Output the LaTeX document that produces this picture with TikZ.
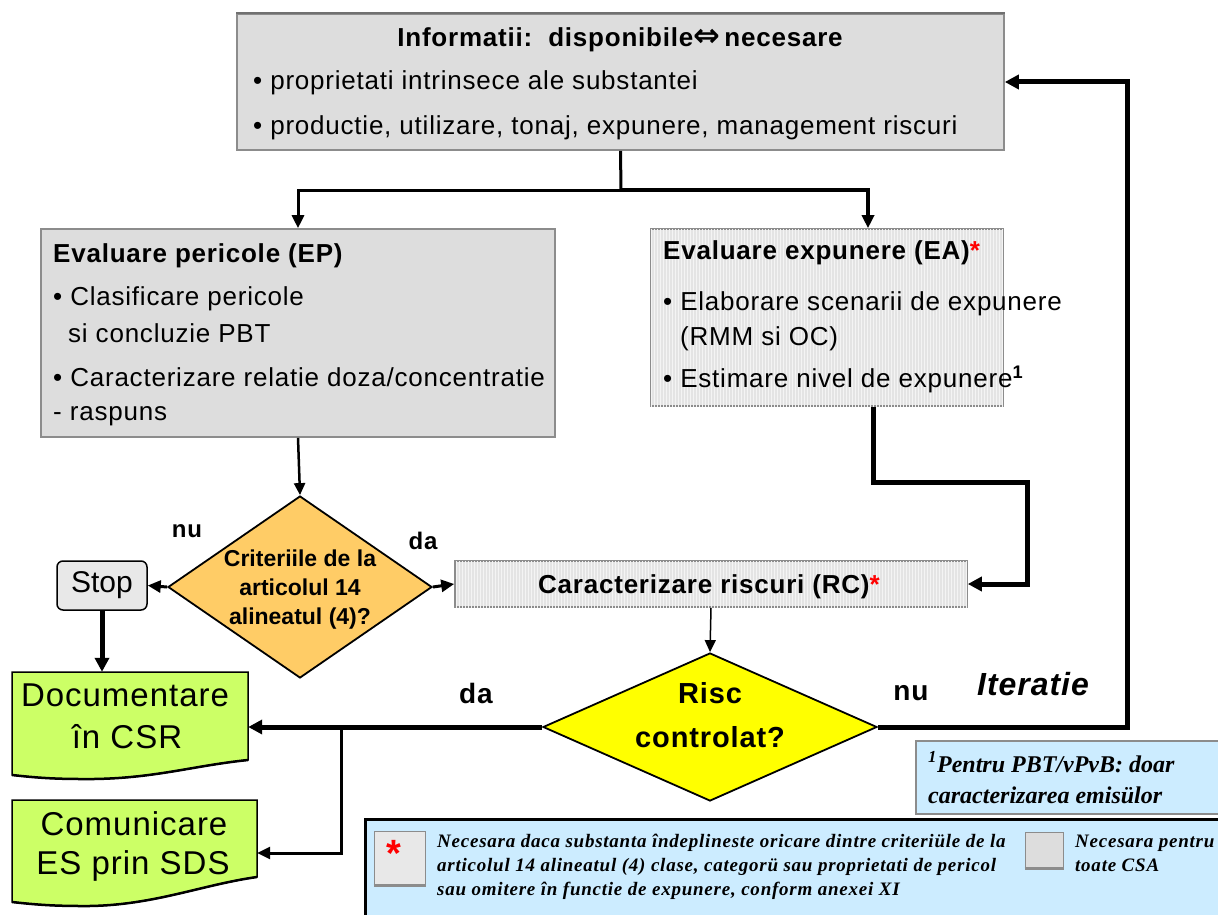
\documentclass[tikz,border=0pt]{standalone}
\usepackage{fontspec}
\setmainfont{Liberation Sans}[LetterSpace=3]
\newfontfamily\plainsans{Liberation Sans}
\newfontfamily\legendfont{Liberation Serif}[LetterSpace=4]
\newfontfamily\footfont{Liberation Serif}
\newfontfamily\symfont{DejaVu Sans}
\usetikzlibrary{shapes.geometric,arrows.meta,patterns,calc}

\definecolor{boxgray}{HTML}{DDDDDD}
\definecolor{stripegray}{HTML}{E4E4E4}
\definecolor{edgegray}{HTML}{8C8C8C}
\definecolor{critorange}{HTML}{FFCC66}
\definecolor{riscyellow}{HTML}{FFFF00}
\definecolor{docgreen}{HTML}{CCFF66}
\definecolor{noteblue}{HTML}{CCECFF}
\definecolor{stopgray}{HTML}{E8E8E8}

\tikzset{
  graybox/.style={draw=edgegray, line width=1.6pt, fill=boxgray, inner sep=0pt},
  stripebox/.style={draw=edgegray, line width=1.6pt, fill=stripegray, inner sep=0pt,
    postaction={pattern=vertical lines, pattern color=white!60!stripegray}},
  decision/.style={diamond, draw=black, line width=1.8pt, inner sep=0pt},
  anchorbox/.style={inner sep=0pt},
  body/.style={font=\fontsize{26}{31}\selectfont, inner sep=0pt, anchor=west,
    text height=19pt, text depth=5.5pt},
  head/.style={body, font=\fontsize{26}{31}\selectfont\bfseries},
  big/.style={font=\fontsize{33}{40}\selectfont, inner sep=0pt,
    text height=24pt, text depth=7pt},
  answer/.style={font=\fontsize{28}{34}\selectfont\bfseries, inner sep=0pt},
  note/.style={font=\legendfont\bfseries\itshape\fontsize{19}{23}\selectfont,
    inner sep=0pt, anchor=west, text height=13.5pt, text depth=4pt},
  footnote/.style={font=\footfont\bfseries\itshape\fontsize{24}{29}\selectfont,
    inner sep=0pt, anchor=west, text height=17pt, text depth=5pt},
  flow/.style={line width=1.5pt, -{Triangle[length=12pt,width=11pt]}},
  flowmid/.style={line width=3pt, -{Triangle[length=13pt,width=12pt]}},
  flowthick/.style={line width=5pt, -{Triangle[length=14pt,width=14pt]}},
  docshape/.style={draw=black, line width=1.5pt, fill=docgreen},
}

\begin{document}
\begin{tikzpicture}[x=1pt,y=-1pt]
\useasboundingbox (0,0) rectangle (1218,915);
\clip (0,0) rectangle (1218,915);

% ---------- information box ----------
\node[graybox, minimum width=767, minimum height=136] (info) at (620.5,82) {};
\draw[edgegray!80!black, line width=2.5pt] (info.north west) -- (info.north east);
\node[head, anchor=center] (infohead) at (620,40)
  {Informatii:\ \ disponibile{\symfont\fontsize{32}{32}\selectfont ⇔}\,necesare};
\node[body] (info1) at (253,83) {• proprietati intrinsece ale substantei};
\node[body] (info2) at (253,128) {• productie, utilizare, tonaj, expunere, management riscuri};

% ---------- hazard assessment ----------
\node[graybox, minimum width=514, minimum height=208] (ep) at (298,333) {};
\node[head] (ephead) at (53,256) {Evaluare pericole (EP)};
\node[body] (ep1) at (53,299) {• Clasificare pericole};
\node[body] (ep2) at (68,336) {si concluzie PBT};
\node[body] (ep3) at (53,380) {• Caracterizare relatie doza/concentratie};
\node[body] (ep4) at (53,414) {- raspuns};

% ---------- exposure assessment ----------
\node[stripebox, minimum width=352, minimum height=177] (ea) at (827,317.5) {};
\node[head] (eahead) at (663,253) {Evaluare expunere (EA)\textcolor{red}{*}};
\node[body] (ea1) at (663,304) {• Elaborare scenarii de expunere};
\node[body] (ea2) at (680,339) {(RMM si OC)};
\node[body] (ea3) at (663,381) {• Estimare nivel de expunere\textsuperscript{\bfseries 1}};

% ---------- criteria decision ----------
\node[decision, fill=critorange, minimum width=264, minimum height=182] (crit) at (300,587) {};
\node[font=\plainsans\fontsize{23}{29}\selectfont\bfseries, align=center, inner sep=0pt] (crittext) at (300,590)
  {Criteriile de la\\articolul 14\\alineatul (4)?};
\node[answer, font=\fontsize{24}{29}\selectfont\bfseries] (critno) at (187,531) {nu};
\node[answer, font=\fontsize{24}{29}\selectfont\bfseries] (crityes) at (423,541) {da};

% ---------- stop ----------
\node[draw=black, line width=1.5pt, fill=stopgray, rounded corners=6pt,
  minimum width=90, minimum height=49, inner sep=0pt,
  font=\plainsans\fontsize{30}{36}\selectfont] (stop) at (102,585.5) {Stop};

% ---------- risk characterisation ----------
\node[stripebox, minimum width=512, minimum height=46] (rc) at (711,584) {};
\node[head, anchor=center] (rctext) at (709,587) {Caracterizare riscuri (RC)\textcolor{red}{*}};

% ---------- risk decision ----------
\node[decision, fill=riscyellow, minimum width=334, minimum height=148] (risc) at (710,727) {};
\node[font=\fontsize{29}{44}\selectfont\bfseries, align=center, inner sep=0pt] (risctext) at (710,715)
  {Risc\\controlat?};
\node[answer] (riscyes) at (476,693) {da};
\node[answer] (riscno) at (911,693) {nu};
\node[answer, font=\fontsize{32}{38}\selectfont\bfseries\itshape] (iter) at (1033,684) {Iteratie};

% ---------- documents ----------
\node[anchorbox, minimum width=236, minimum height=104] (doc) at (130,724) {};
\draw[docshape] (12,672) -- (248,672) -- (248,760)
  .. controls (190,766) and (150,780) .. (80,779)
  .. controls (50,779) and (30,777) .. (12,775) -- cycle;
\draw[line width=2.5pt] (248,760) .. controls (190,766) and (150,780) .. (80,779)
  .. controls (50,779) and (30,777) .. (12,775);
\node[big] (doc1) at (125,698) {Documentare};
\node[big] (doc2) at (127,740) {în CSR};

\node[anchorbox, minimum width=245, minimum height=106] (com) at (134.5,853) {};
\draw[docshape] (12,800) -- (257,800) -- (257,877)
  .. controls (200,885) and (150,907) .. (80,906)
  .. controls (50,906) and (30,904) .. (12,902) -- cycle;
\draw[line width=2.5pt] (257,877) .. controls (200,885) and (150,907) .. (80,906)
  .. controls (50,906) and (30,904) .. (12,902);
\node[big] (com1) at (134,827) {Comunicare};
\node[big] (com2) at (133,866) {ES prin SDS};

% ---------- footnote and legend ----------
\node[draw=edgegray, line width=2pt, fill=noteblue, minimum width=320, minimum height=73,
  inner sep=0pt, anchor=north west] (foot) at (915,740) {};
\node[footnote] (foot1) at (928,766) {\textsuperscript{1}Pentru PBT/vPvB: doar};
\node[footnote] (foot2) at (928,797) {caracterizarea emisülor};

\node[draw=black, line width=3pt, fill=noteblue, minimum width=880, minimum height=110,
  inner sep=0pt, anchor=north west] (legend) at (364,818) {};
\node[draw=edgegray, line width=1pt, fill=stopgray, minimum width=51, minimum height=54,
  inner sep=0pt] (swstar) at (399.5,858) {};
\draw[edgegray, line width=2.5pt] (swstar.south west) -- (swstar.south east);
\node[text=red, font=\plainsans\fontsize{38}{44}\selectfont\bfseries, inner sep=0pt] (star) at (394,853) {*};
\node[draw=edgegray, line width=1pt, fill=boxgray, minimum width=38, minimum height=36,
  inner sep=0pt] (swgray) at (1044,850) {};
\draw[edgegray, line width=2.5pt] (swgray.south west) -- (swgray.south east);
\node[note] (leg1) at (437,843) {Necesara daca substanta îndeplineste oricare dintre criteriüle de la};
\node[note] (leg2) at (437,867) {articolul 14 alineatul (4) clase, categorü sau proprietati de pericol};
\node[note] (leg3) at (437,891) {sau omitere în functie de expunere, conform anexei XI};
\node[note] (leg4) at (1075,843) {Necesara pentru};
\node[note] (leg5) at (1075,867) {toate CSA};

% ---------- connectors ----------
\coordinate (split) at (621,190);
\draw[line width=3pt] (info.south) -- (split);
\draw[flowmid] (split) -| (ep.north);
\draw[flowmid, line width=4pt] (split) -| ([xshift=41pt]ea.north);
\draw[flow, line width=2.5pt] (ep.south) -- (crit.north);
\draw[flowmid] (crit.west) -- (stop.east);
\draw[flowmid] (crit.east) -- (rc.west);
\draw[flowthick] (stop.south) -- (stop.south |- doc.north);
\coordinate (eabend) at (1027,482);
\draw[flowthick] ([xshift=46pt]ea.south) |- (eabend) |- (rc.east);
\draw[flow] (rc.south) -- (risc.north);
\draw[flowthick] (risc.west) -- (risc.west -| doc.east);
\coordinate (branch) at (341,727);
\draw[flowmid] (branch) |- (com.east);
\coordinate (loopcorner) at (1127,727);
\draw[flowthick] (risc.east) -- (loopcorner) |- (info.east);

\end{tikzpicture}
\end{document}
